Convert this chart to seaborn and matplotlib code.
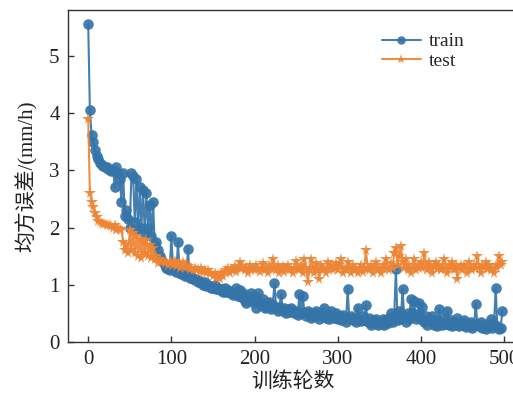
import numpy as np
import pandas as pd
import matplotlib
matplotlib.use("Agg")
import matplotlib.pyplot as plt
import seaborn as sns

# Training epochs (sampled every 2 epochs)
epochs = list(range(0, 500, 2))

# Mean squared error on the training set
train_mse = [
    5.55, 4.05, 3.62, 3.50, 3.35, 3.25, 3.20, 3.12, 3.10, 3.08, 3.05, 3.05, 3.02, 3.00, 2.98, 3.00, 2.70, 3.05, 2.95, 2.85, 2.45, 2.95, 2.20, 2.30, 2.15,
    2.00, 2.95, 2.90, 2.10, 2.85, 1.95, 2.70, 2.00, 2.65, 1.90, 2.60, 2.00, 2.40, 1.85, 2.45, 1.70, 1.75, 1.60, 1.50, 1.45, 1.40, 1.35, 1.30, 1.28, 1.25,
    1.85, 1.30, 1.25, 1.22, 1.75, 1.20, 1.18, 1.20, 1.15, 1.17, 1.62, 1.12, 1.15, 1.10, 1.08, 1.10, 1.05, 1.07, 1.03, 1.00, 1.05, 0.98, 1.00, 0.97, 0.95,
    0.95, 1.00, 0.93, 0.95, 0.90, 0.92, 0.88, 0.95, 0.87, 0.90, 0.85, 0.88, 0.82, 0.85, 0.95, 0.80, 0.90, 0.78, 0.85, 0.72, 0.68, 0.80, 0.75, 0.85, 0.70,
    0.78, 0.60, 0.85, 0.70, 0.65, 0.75, 0.60, 0.68, 0.62, 0.70, 0.58, 0.65, 1.03, 0.60, 0.55, 0.62, 0.84, 0.55, 0.60, 0.50, 0.58, 0.52, 0.60, 0.55, 0.50,
    0.55, 0.48, 0.84, 0.50, 0.80, 0.52, 0.45, 0.55, 0.50, 0.42, 0.50, 0.45, 0.55, 0.48, 0.40, 0.50, 0.45, 0.60, 0.42, 0.48, 0.40, 0.55, 0.45, 0.42, 0.50,
    0.40, 0.45, 0.38, 0.48, 0.42, 0.35, 0.93, 0.40, 0.45, 0.38, 0.42, 0.35, 0.60, 0.40, 0.36, 0.45, 0.38, 0.65, 0.35, 0.42, 0.30, 0.38, 0.33, 0.40, 0.30,
    0.35, 0.32, 0.40, 0.30, 0.38, 0.33, 0.42, 0.50, 0.35, 0.45, 1.28, 0.38, 0.55, 0.40, 0.93, 0.45, 0.35, 0.50, 0.40, 0.75, 0.50, 0.72, 0.40, 0.45, 0.68,
    0.40, 0.62, 0.35, 0.45, 0.30, 0.40, 0.35, 0.45, 0.30, 0.38, 0.28, 0.58, 0.35, 0.30, 0.42, 0.32, 0.55, 0.30, 0.38, 0.28, 0.35, 0.30, 0.42, 0.28, 0.35,
    0.30, 0.38, 0.27, 0.33, 0.28, 0.35, 0.25, 0.30, 0.67, 0.32, 0.28, 0.35, 0.25, 0.30, 0.22, 0.32, 0.28, 0.40, 0.25, 0.30, 0.95, 0.28, 0.22, 0.24, 0.55,
]

# Mean squared error on the test set
test_mse = [
    3.90, 2.60, 2.45, 2.35, 2.25, 2.18, 2.12, 2.10, 2.08, 2.07, 2.06, 2.05, 2.05, 2.04, 2.03, 2.00, 2.05, 1.95, 2.00, 1.98, 1.95, 1.75, 1.60, 1.72, 1.56,
    1.95, 1.60, 1.90, 1.55, 1.85, 1.50, 1.80, 1.47, 1.75, 1.55, 1.78, 1.50, 1.70, 1.47, 1.65, 1.45, 1.50, 1.38, 1.45, 1.40, 1.42, 1.38, 1.40, 1.35, 1.38,
    1.40, 1.35, 1.42, 1.32, 1.38, 1.30, 1.35, 1.40, 1.30, 1.35, 1.32, 1.28, 1.30, 1.25, 1.30, 1.25, 1.28, 1.22, 1.30, 1.22, 1.25, 1.20, 1.25, 1.20, 1.20,
    1.15, 1.20, 1.12, 1.18, 1.10, 1.20, 1.15, 1.22, 1.25, 1.30, 1.20, 1.28, 1.25, 1.32, 1.22, 1.30, 1.40, 1.28, 1.32, 1.25, 1.30, 1.20, 1.35, 1.25, 1.30,
    1.25, 1.35, 1.28, 1.22, 1.30, 1.38, 1.25, 1.30, 1.20, 1.35, 1.28, 1.45, 1.30, 1.25, 1.35, 1.20, 1.28, 1.32, 1.22, 1.30, 1.35, 1.25, 1.28, 1.20, 1.30,
    1.42, 1.30, 1.25, 1.35, 1.20, 1.45, 1.30, 1.05, 1.25, 1.45, 1.30, 1.20, 1.38, 1.25, 1.10, 1.35, 1.25, 1.30, 1.20, 1.40, 1.28, 1.35, 1.25, 1.30, 1.38,
    1.25, 1.35, 1.45, 1.20, 1.30, 1.25, 1.40, 1.30, 1.20, 1.35, 1.25, 1.30, 1.20, 1.28, 1.35, 1.22, 1.30, 1.60, 1.30, 1.25, 1.35, 1.20, 1.30, 1.40, 1.25,
    1.30, 1.20, 1.35, 1.28, 1.45, 1.30, 1.25, 1.38, 1.30, 1.55, 1.65, 1.35, 1.50, 1.68, 1.40, 1.30, 1.45, 1.25, 1.35, 1.20, 1.30, 1.45, 1.25, 1.35, 1.30,
    1.40, 1.30, 1.55, 1.35, 1.25, 1.40, 1.30, 1.20, 1.35, 1.40, 1.28, 1.35, 1.25, 1.30, 1.45, 1.30, 1.20, 1.35, 1.30, 1.40, 1.25, 1.35, 1.10, 1.30, 1.35,
    1.25, 1.35, 1.30, 1.20, 1.40, 1.30, 1.25, 1.35, 1.30, 1.50, 1.30, 1.20, 1.35, 1.30, 1.40, 1.28, 1.35, 1.25, 1.30, 1.20, 1.35, 1.30, 1.50, 1.35, 1.40,
]

series_names = ["train", "test"]
x_ticks = [0, 100, 200, 300, 400, 500]
y_ticks = [0, 1, 2, 3, 4, 5]

df = pd.DataFrame({
    "epoch": epochs * 2,
    "mse": train_mse + test_mse,
    "set": [series_names[0]] * len(epochs) + [series_names[1]] * len(epochs),
})

sns.set_style("ticks")
plt.rcParams["font.family"] = ["Liberation Serif", "Noto Sans CJK SC"]
plt.rcParams["xtick.direction"] = "in"
plt.rcParams["ytick.direction"] = "in"

fig = plt.figure(figsize=(5.13, 3.95), dpi=100)
ax = fig.add_axes([68 / 513, 53 / 395, 1 - 68 / 513 + 0.01, 332 / 395])

palette = {"train": "#3474a8", "test": "#ed8534"}
markers = {"train": "o", "test": "*"}
sizes = {"train": 7.6, "test": 8.5}

for name in series_names:
    sub = df[df["set"] == name]
    sns.lineplot(data=sub, x="epoch", y="mse", ax=ax, color=palette[name],
                 marker=markers[name], markersize=sizes[name], markeredgewidth=0,
                 linewidth=1.5, alpha=0.92, label=name, sort=False,
                 estimator=None, errorbar=None)

ax.set_xlim(-24.3, 517)
ax.set_ylim(0, 5.8)
ax.set_xticks(x_ticks)
ax.set_yticks(y_ticks)
ax.tick_params(axis="both", labelsize=15, length=4, width=1, color="#333333",
               labelcolor="#222222", pad=6)
ax.set_xlabel("训练轮数", fontsize=15, labelpad=2, color="#222222")
ax.set_ylabel("均方误差/(mm/h)", fontsize=15, labelpad=8, color="#222222")

for side in ["left", "bottom", "top"]:
    ax.spines[side].set_color("#333333")
    ax.spines[side].set_linewidth(1.0)
ax.spines["right"].set_visible(False)

leg = ax.legend(loc="upper left", bbox_to_anchor=(0.68, 0.955), frameon=False,
                fontsize=14, handlelength=2.0, handletextpad=0.4,
                borderaxespad=0, labelspacing=0.1, markerscale=0.8)

fig.savefig("out.png", dpi=100)
